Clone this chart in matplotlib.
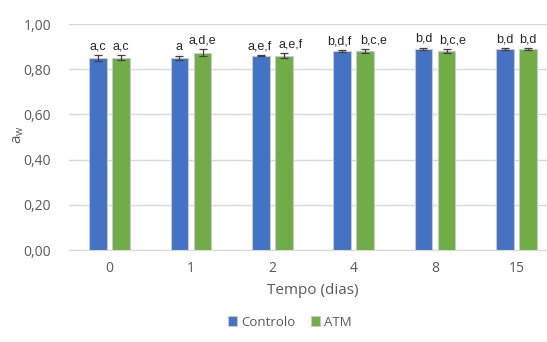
import numpy as np
import matplotlib
matplotlib.use("Agg")
from matplotlib import pyplot as plt
from matplotlib.ticker import FuncFormatter

dias = ["0", "1", "2", "4", "8", "15"]
controlo = [0.850, 0.850, 0.860, 0.880, 0.890, 0.890]
controlo_err = [0.012, 0.010, 0.002, 0.005, 0.005, 0.004]
atm = [0.851, 0.873, 0.860, 0.880, 0.880, 0.890]
atm_err = [0.010, 0.015, 0.010, 0.010, 0.010, 0.004]
letras_controlo = ["a,c", "a", "a,e,f", "b,d,f", "b,d", "b,d"]
letras_atm = ["a,c", "a,d,e", "a,e,f", "b,c,e", "b,c,e", "b,d"]

blue = "#4472C4"
green = "#70AD47"
gray_txt = "#595959"

plt.rcParams['font.family'] = ['Open Sans', 'DejaVu Sans']

fig = plt.figure(figsize=(5.47, 3.42), dpi=100)
ax = fig.add_axes([69 / 547, 92 / 342, 488 / 547, 226 / 342])

x = np.arange(len(dias))
w = 0.22
off = 0.142
ax.bar(x - off, controlo, w, color=blue, edgecolor="#c9c9c9", linewidth=0.8,
       yerr=controlo_err, error_kw=dict(ecolor="#404040", elinewidth=0.9, capsize=3, capthick=0.9),
       label="Controlo", zorder=3)
ax.bar(x + off, atm, w, color=green, edgecolor="#c9c9c9", linewidth=0.8,
       yerr=atm_err, error_kw=dict(ecolor="#404040", elinewidth=0.9, capsize=3, capthick=0.9),
       label="ATM", zorder=3)

# labels sit a little apart where they would collide (as in the original)
nudge_c = [0, 0, -1, -2, 0, 0]
nudge_a = [0, 0, 5, 6, 4, 0]
for i in range(len(dias)):
    ax.annotate(letras_controlo[i], (x[i] - off, controlo[i] + controlo_err[i]),
                xytext=(nudge_c[i], 2), textcoords="offset points",
                ha="center", va="bottom", fontsize=9, color="#262626", family="Liberation Sans")
    ax.annotate(letras_atm[i], (x[i] + off, atm[i] + atm_err[i]),
                xytext=(nudge_a[i], 2), textcoords="offset points",
                ha="center", va="bottom", fontsize=9, color="#262626", family="Liberation Sans")

ax.set_ylim(0, 1.0)
ax.set_xlim(-0.5, len(dias) - 0.5)
ax.set_yticks(np.arange(0, 1.01, 0.2))
ax.yaxis.set_major_formatter(FuncFormatter(lambda v, p: f"{v:.2f}".replace(".", ",")))
ax.set_xticks(x)
ax.set_xticklabels(dias)
ax.grid(axis="y", color="#d9d9d9", linewidth=1, zorder=0)
for s in ["top", "right", "left"]:
    ax.spines[s].set_visible(False)
ax.spines["bottom"].set_color("#d9d9d9")
ax.tick_params(length=0, colors=gray_txt, labelsize=10)
ax.tick_params(axis="x", pad=8)
ax.tick_params(axis="y", pad=13)

ax.set_xlabel("Tempo (dias)", fontsize=11, color=gray_txt, labelpad=5)
fig.text(18 / 547, 1 - 135 / 342, r"a$_\mathregular{w}$", rotation=90, ha="center", va="center",
         fontsize=11, color=gray_txt)

fig.legend(loc="center", bbox_to_anchor=(290 / 547, 1 - 322 / 342), ncol=2, frameon=False,
           fontsize=9.5, handlelength=0.7, handleheight=0.7, handletextpad=0.3, columnspacing=1.2,
           labelcolor=gray_txt)

fig.savefig("out.png", dpi=100)
